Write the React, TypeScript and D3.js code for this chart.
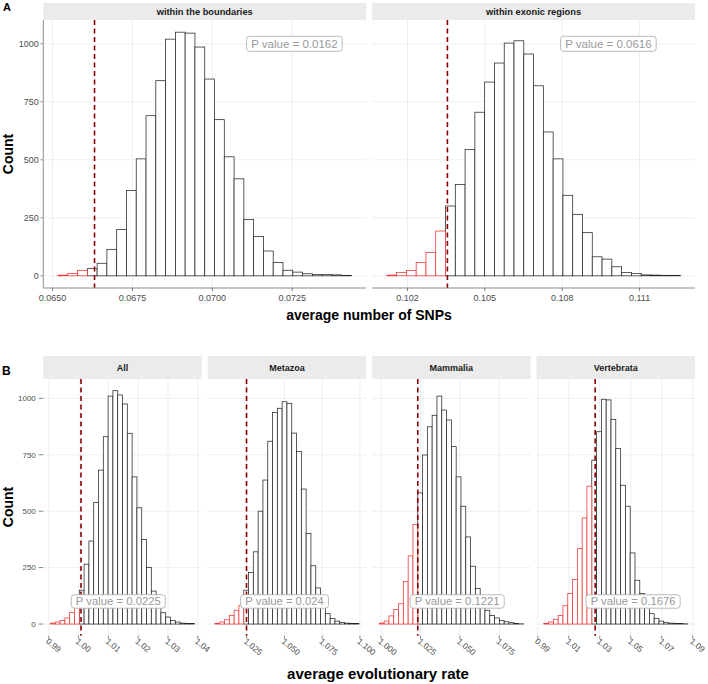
import React from "react";
import * as d3 from "d3";

const W = 708;
const H = 684;
const FONT = "'Liberation Sans', Arial, Helvetica, sans-serif";

// ---- panel A : average number of SNPs (30 bins each) ----
const snpFacets = ["within the boundaries", "within exonic regions"];
const boundariesCounts = [3, 10, 23, 31, 54, 114, 200, 368, 504, 690, 841, 1020, 1050, 1046, 986, 848, 673, 513, 418, 243, 169, 107, 57, 24, 16, 9, 5, 5, 4, 2];
const exonicCounts = [3, 14, 23, 57, 100, 193, 301, 394, 544, 705, 835, 917, 1003, 1013, 956, 819, 620, 504, 347, 265, 186, 82, 72, 39, 14, 10, 4, 3, 2, 2];
const snpBinRanges: [number, number][] = [[0.065169, 0.074356], [0.101199, 0.11258]];
const snpObserved = [0.066313, 0.103548];
const snpRedBins = [3, 6];
const snpPValues = ["0.0162", "0.0616"];
const snpLabelX = [0.072569, 0.10979];
const snpTicks = [[0.065, 0.0675, 0.07, 0.0725], [0.102, 0.105, 0.108, 0.111]];
const snpTickFormats = [".4f", ".3f"];

// ---- panel B : average evolutionary rate ----
const rateFacets = ["All", "Metazoa", "Mammalia", "Vertebrata"];
const allCounts = [4, 9, 16, 27, 51, 95, 150, 265, 368, 538, 682, 830, 1010, 1034, 1015, 975, 845, 652, 515, 374, 250, 146, 87, 50, 31, 15, 9, 4, 3, 2];
const metazoaCounts = [3, 9, 19, 38, 61, 83, 150, 228, 320, 500, 638, 810, 938, 956, 985, 978, 846, 764, 598, 401, 258, 160, 87, 46, 24, 13, 7, 4, 3, 2];
const mammaliaCounts = [4, 13, 36, 64, 90, 189, 302, 441, 581, 749, 874, 925, 1010, 948, 904, 786, 652, 522, 386, 256, 157, 93, 61, 38, 27, 16, 10, 6, 3, 1];
const vertebrataCounts = [3, 9, 21, 38, 81, 135, 197, 334, 470, 611, 726, 852, 996, 993, 907, 778, 615, 522, 315, 194, 135, 83, 46, 24, 13, 6, 4, 3, 2, 1];
const rateBinRanges: [number, number][] = [[0.99057, 1.0389], [1.00398, 1.09934], [0.99892, 1.0903], [0.99385, 1.0868]];
const rateObserved = [1.0008, 1.0249, 1.0233, 1.027];
const rateRedBins = [6, 6, 8, 10];
const ratePValues = ["0.0225", "0.024", "0.1221", "0.1676"];
const rateLabelX = [1.01333, 1.0501, 1.0483, 1.0515];
const rateTicks = [
  [0.99, 1.0, 1.01, 1.02, 1.03, 1.04],
  [1.025, 1.05, 1.075, 1.1],
  [1.0, 1.025, 1.05, 1.075],
  [0.99, 1.01, 1.03, 1.05, 1.07, 1.09],
];
const rateTickFormats = [".2f", ".3f", ".3f", ".2f"];

const countTicks = [0, 250, 500, 750, 1000];

type Spec = {
  title: string;
  counts: number[];
  range: [number, number];
  observed: number;
  red: number;
  p: string;
  labelX: number;
  ticks: number[];
  fmt: string;
};

const snpSpecs: Spec[] = snpFacets.map((title, i) => ({
  title,
  counts: [boundariesCounts, exonicCounts][i],
  range: snpBinRanges[i],
  observed: snpObserved[i],
  red: snpRedBins[i],
  p: snpPValues[i],
  labelX: snpLabelX[i],
  ticks: snpTicks[i],
  fmt: snpTickFormats[i],
}));

const rateSpecs: Spec[] = rateFacets.map((title, i) => ({
  title,
  counts: [allCounts, metazoaCounts, mammaliaCounts, vertebrataCounts][i],
  range: rateBinRanges[i],
  observed: rateObserved[i],
  red: rateRedBins[i],
  p: ratePValues[i],
  labelX: rateLabelX[i],
  ticks: rateTicks[i],
  fmt: rateTickFormats[i],
}));

function textWidth(s: string, size: number) {
  const ctx = document.createElement("canvas").getContext("2d");
  if (!ctx) return s.length * size * 0.55;
  ctx.font = `${size}px "Liberation Sans", Arial, sans-serif`;
  return ctx.measureText(s).width;
}

type RowProps = {
  specs: Spec[];
  top: number;
  stripH: number;
  bottom: number;
  labelCount: number;
  stripFont: number;
  tickFont: number;
  yTickFont: number;
  yTickLen: number;
  yLabelGap: number;
  labelFont: number;
  labelH: number;
  axisLines: boolean;
  rotate: boolean;
};

const LEFT = 43.3;
const RIGHT = 695;
const GAP = 6;

function Row(props: RowProps) {
  const { specs, top, stripH, bottom } = props;
  const n = specs.length;
  const pw = (RIGHT - LEFT - GAP * (n - 1)) / n;
  const panelTop = top + stripH;
  const yMax = d3.max(specs.flatMap((s) => s.counts)) as number;
  const y = d3.scaleLinear().domain([-0.05 * yMax, yMax * 1.05]).range([bottom, panelTop]);

  return (
    <g>
      {/* y axis ticks on the first facet */}
      {countTicks.map((t) => (
        <g key={"yt" + t}>
          <line x1={LEFT - props.yTickLen} x2={LEFT} y1={y(t)} y2={y(t)} stroke="#333" strokeWidth={0.6} />
          <text x={LEFT - props.yLabelGap} y={y(t)} dy="0.35em" textAnchor="end" fontSize={props.yTickFont} fill="#4d4d4d">
            {t}
          </text>
        </g>
      ))}
      {props.axisLines && <line x1={LEFT} x2={LEFT} y1={panelTop} y2={bottom} stroke="#8c8c8c" strokeWidth={1} />}
      {specs.map((s, i) => {
        const x0 = LEFT + i * (pw + GAP);
        const x1 = x0 + pw;
        const [a, b] = s.range;
        const pad = (b - a) * 0.05;
        const x = d3.scaleLinear().domain([a - pad, b + pad]).range([x0, x1]);
        const bw = (b - a) / s.counts.length;
        const fmt = d3.format(s.fmt);
        const lw = textWidth("P value = " + s.p, props.labelFont) + 9;
        const lx = x(s.labelX);
        const ly = y(props.labelCount);
        const bars = s.counts.map((c, k) => ({ c, k, isRed: k < s.red }));
        const drawBar = (d: { c: number; k: number; isRed: boolean }) => (
          <rect
            key={"b" + d.k}
            x={x(a + d.k * bw)}
            y={y(d.c)}
            width={x(a + (d.k + 1) * bw) - x(a + d.k * bw)}
            height={y(0) - y(d.c)}
            fill="white"
            stroke={d.isRed ? "#ec3434" : "#262626"}
            strokeWidth={0.75}
          />
        );
        return (
          <g key={s.title}>
            <rect x={x0} y={top} width={pw} height={stripH} fill="#ebebeb" />
            <text x={(x0 + x1) / 2} y={top + stripH / 2} dy="0.35em" textAnchor="middle" fontSize={props.stripFont} fontWeight="bold" fill="#1a1a1a">
              {s.title}
            </text>
            {/* grid */}
            {countTicks.map((t) => (
              <line key={"gy" + t} x1={x0} x2={x1} y1={y(t)} y2={y(t)} stroke="#ebebeb" strokeWidth={0.8} />
            ))}
            {s.ticks.map((t) => (
              <line key={"gx" + t} x1={x(t)} x2={x(t)} y1={panelTop} y2={bottom} stroke="#ebebeb" strokeWidth={0.8} />
            ))}
            {/* histogram */}
            {bars.filter((d) => !d.isRed).map(drawBar)}
            {bars.filter((d) => d.isRed).map(drawBar)}
            {/* observed value */}
            <line
              x1={x(s.observed)}
              x2={x(s.observed)}
              y1={panelTop}
              y2={bottom}
              stroke="#8b0000"
              strokeWidth={1.6}
              strokeDasharray="5,3.5"
            />
            {/* p value label */}
            <rect x={lx - lw / 2} y={ly - props.labelH / 2} width={lw} height={props.labelH} rx={3} fill="white" stroke="#aaaaaa" strokeWidth={0.8} />
            <text x={lx} y={ly} dy="0.35em" textAnchor="middle" fontSize={props.labelFont} fill="#999999">
              {"P value = " + s.p}
            </text>
            {props.axisLines && <line x1={x0} x2={x1} y1={bottom} y2={bottom} stroke="#8c8c8c" strokeWidth={1} />}
            {/* x axis ticks */}
            {s.ticks.map((t) => (
              <g key={"xt" + t}>
                <line x1={x(t)} x2={x(t)} y1={bottom} y2={bottom + 3.2} stroke="#333" strokeWidth={0.6} />
                {props.rotate ? (
                  <text transform={`translate(${x(t) - 3.5},${bottom + 6.5}) rotate(40)`} fontSize={props.tickFont} fill="#4d4d4d">
                    {fmt(t)}
                  </text>
                ) : (
                  <text x={x(t)} y={bottom + 12.5} textAnchor="middle" fontSize={props.tickFont} fill="#4d4d4d">
                    {fmt(t)}
                  </text>
                )}
              </g>
            ))}
          </g>
        );
      })}
    </g>
  );
}

export default function App() {
  return (
    <svg width={W} height={H} style={{ position: "absolute", left: 0, top: 0, background: "white" }} fontFamily={FONT}>
      <rect width={W} height={H} fill="white" />
      <text x={3} y={11} fontSize={11} fontWeight="bold">A</text>
      <Row
        specs={snpSpecs}
        top={3}
        stripH={17}
        bottom={288}
        labelCount={1000}
        stripFont={9.3}
        tickFont={9}
        yTickFont={9}
        yTickLen={2.75}
        yLabelGap={4.5}
        labelFont={11.5}
        labelH={15}
        axisLines={true}
        rotate={false}
      />
      <text transform="translate(13,154) rotate(-90)" textAnchor="middle" fontSize={14} fontWeight="bold">Count</text>
      <text x={369} y={320} textAnchor="middle" fontSize={14} fontWeight="bold">average number of SNPs</text>

      <text x={2} y={375} fontSize={12} fontWeight="bold">B</text>
      <Row
        specs={rateSpecs}
        top={356}
        stripH={23}
        bottom={635.7}
        labelCount={100}
        stripFont={9}
        tickFont={8.5}
        yTickFont={8}
        yTickLen={4.5}
        yLabelGap={7.5}
        labelFont={11.3}
        labelH={13.5}
        axisLines={false}
        rotate={true}
      />
      <text transform="translate(12.5,507) rotate(-90)" textAnchor="middle" fontSize={14} fontWeight="bold">Count</text>
      <text x={378} y={679} textAnchor="middle" fontSize={15} fontWeight="bold">average evolutionary rate</text>
    </svg>
  );
}
